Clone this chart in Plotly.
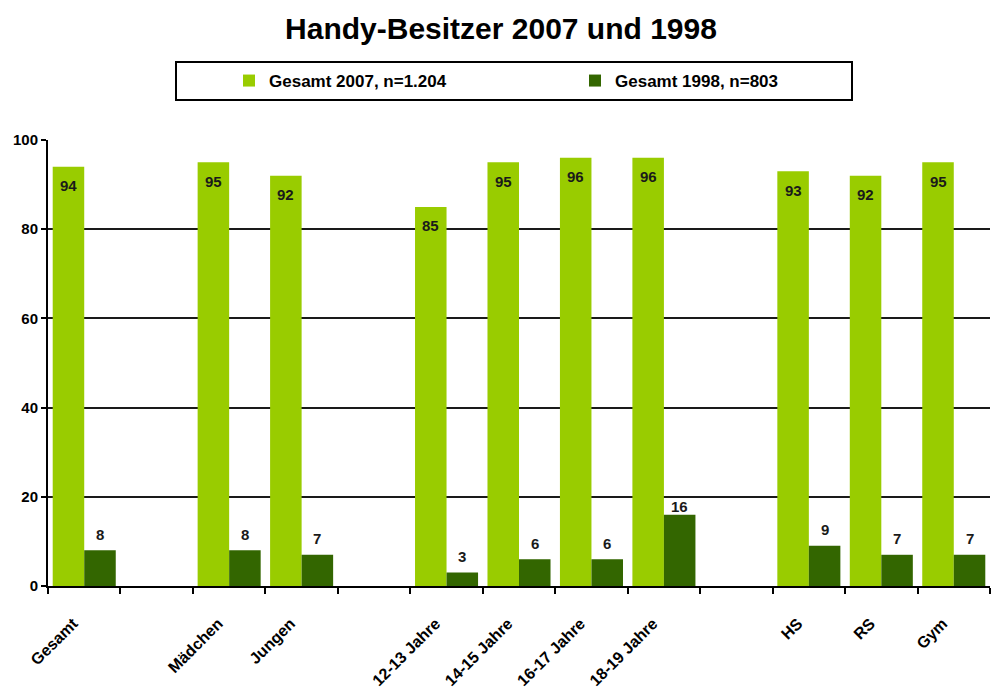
import plotly.graph_objects as go

# Categories (blank entries separate the groups on the axis)
categories = ["Gesamt", " ", "Mädchen", "Jungen", "  ",
              "12-13 Jahre", "14-15 Jahre", "16-17 Jahre", "18-19 Jahre", "   ",
              "HS", "RS", "Gym"]
values_2007 = [94, None, 95, 92, None, 85, 95, 96, 96, None, 93, 92, 95]
values_1998 = [8, None, 8, 7, None, 3, 6, 6, 16, None, 9, 7, 7]

name_2007 = "Gesamt 2007, n=1.204"
name_1998 = "Gesamt 1998, n=803"
title_text = "Handy-Besitzer 2007 und 1998"
y_ticks = [0, 20, 40, 60, 80, 100]

LIGHT = "#99CC00"
DARK = "#336600"
FONT = "Liberation Sans, Arial, sans-serif"

PLOT_TOP, PLOT_BOTTOM = 140, 586        # pixel rows of y=100 and y=0
PX_PER_UNIT = (PLOT_BOTTOM - PLOT_TOP) / 100

fig = go.Figure()
fig.add_trace(go.Bar(x=categories, y=values_2007, name=name_2007,
                     marker=dict(color=LIGHT, line=dict(width=0))))
fig.add_trace(go.Bar(x=categories, y=values_1998, name=name_1998,
                     marker=dict(color=DARK, line=dict(width=0))))

BARGAP = 0.13
half = (1 - BARGAP) / 4  # centre offset of each bar within its category

label_font = dict(family=FONT, size=15, color="#1a1a1a", weight="bold")
annotations = []
for i, v in enumerate(values_2007):
    if v is None:
        continue
    annotations.append(dict(x=i - half, y=v, xref="x", yref="y", text=str(v),
                            showarrow=False, yanchor="middle", yshift=-19,
                            font=label_font))
for i, v in enumerate(values_1998):
    if v is None:
        continue
    # keep the value label clear of a gridline sitting just above the bar
    shift = 16
    label_val = v + shift / PX_PER_UNIT
    if any(abs(label_val - g) * PX_PER_UNIT < 6 for g in y_ticks[1:]):
        shift = 8
    annotations.append(dict(x=i + half, y=v, xref="x", yref="y", text=str(v),
                            showarrow=False, yanchor="middle", yshift=shift,
                            font=label_font))

# frame around the legend entries
shapes = [dict(type="rect", xref="paper", yref="paper",
               x0=(176 - 48) / 942, x1=(852 - 48) / 942,
               y0=(586 - 100) / 446, y1=(586 - 62) / 446,
               line=dict(color="black", width=2), fillcolor="rgba(0,0,0,0)",
               layer="above")]

fig.update_layout(
    width=991, height=695,
    margin=dict(l=48, r=1, t=140, b=109),
    paper_bgcolor="white", plot_bgcolor="white",
    barmode="group", bargap=BARGAP, bargroupgap=0,
    font=dict(family=FONT, color="black"),
    title=dict(text=title_text, x=501 / 991, xanchor="center",
               y=1 - 28 / 695, yanchor="middle", yref="container",
               font=dict(family=FONT, size=30, color="black", weight="bold")),
    showlegend=True,
    legend=dict(orientation="h", xref="container", yref="container",
                x=229 / 991, xanchor="left", y=1 - 81 / 695, yanchor="middle",
                bgcolor="rgba(0,0,0,0)", borderwidth=0,
                entrywidthmode="pixels", entrywidth=301,
                font=dict(family=FONT, size=17, color="black", weight="bold")),
    xaxis=dict(type="category", categoryorder="array", categoryarray=categories,
               range=[-0.5, len(categories) - 0.5],
               showline=True, linecolor="black", linewidth=2,
               ticks="outside", tickson="boundaries", ticklen=6,
               tickcolor="black", tickwidth=2,
               tickangle=-45, showgrid=False,
               ticklabelstandoff=20, ticklabelshift=-11,
               tickfont=dict(family=FONT, size=16, color="black", weight="bold")),
    yaxis=dict(range=[0, 100], tickvals=y_ticks,
               showline=True, linecolor="black", linewidth=2,
               ticks="outside", ticklen=5, tickcolor="black", tickwidth=2,
               showgrid=True, gridcolor="#1a1a1a", gridwidth=2,
               zeroline=False,
               tickfont=dict(family=FONT, size=15, color="black", weight="bold")),
    annotations=annotations,
    shapes=shapes,
)

fig.write_html("out.html")
